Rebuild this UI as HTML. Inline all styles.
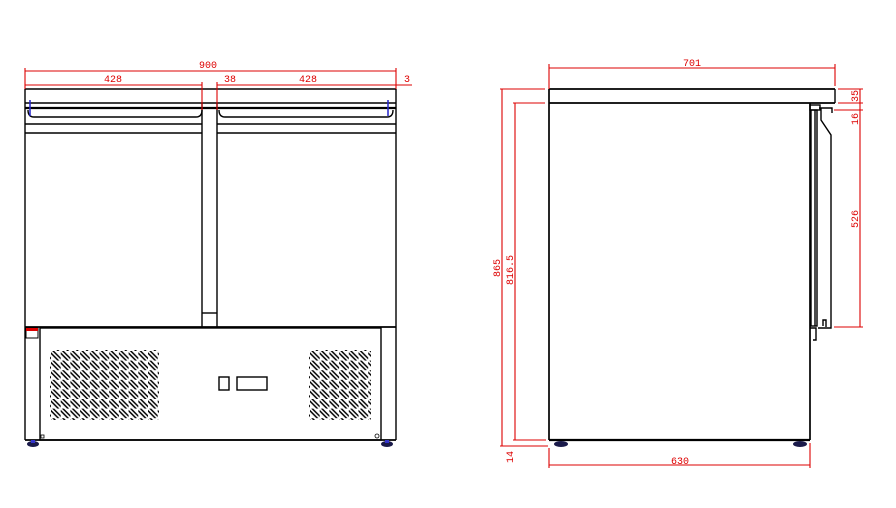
<!DOCTYPE html>
<html><head><meta charset="utf-8"><style>
html,body{margin:0;padding:0;background:#fff}
svg{display:block}
text{font-family:"Liberation Mono",monospace;font-size:10px;fill:#d00}
</style></head><body>
<svg width="896" height="508" viewBox="0 0 896 508" xmlns="http://www.w3.org/2000/svg">
<defs>
<g id="slot"><line x1="0" y1="0" x2="9" y2="9" stroke="#000" stroke-width="4.6" stroke-linecap="round"/><line x1="0" y1="0" x2="9" y2="9" stroke="#fff" stroke-width="1.6" stroke-linecap="round"/></g>
<pattern id="vent" x="51" y="351" width="9.7" height="9.6" patternUnits="userSpaceOnUse">
<use href="#slot" x="0" y="0"/></pattern>
<pattern id="vent2" x="310" y="351" width="9.7" height="9.6" patternUnits="userSpaceOnUse">
<use href="#slot" x="0" y="0"/></pattern>
</defs>
<g fill="none" stroke="#000" stroke-width="1.4">
<line x1="25" y1="89" x2="396" y2="89"/>
<line x1="25" y1="103" x2="396" y2="103"/>
<line x1="25" y1="108" x2="396" y2="108" stroke-width="2.2"/>
<path d="M28 110 Q28 117 34 117 L196 117 Q202 117 202 110"/>
<path d="M219 110 Q219 117 225 117 L387 117 Q393 117 393 110"/>
<line x1="25" y1="124" x2="202" y2="124"/><line x1="217" y1="124" x2="396" y2="124"/>
<line x1="25" y1="133" x2="202" y2="133"/><line x1="217" y1="133" x2="396" y2="133"/>
<line x1="25" y1="89" x2="25" y2="440"/>
<line x1="396" y1="89" x2="396" y2="440"/>
<line x1="202" y1="103" x2="202" y2="327"/>
<line x1="217" y1="103" x2="217" y2="327"/>
<line x1="202" y1="313" x2="217" y2="313"/>
<line x1="25" y1="327" x2="396" y2="327" stroke-width="1.8"/>
<rect x="40" y="328" width="341" height="112"/>
<line x1="25" y1="440" x2="396" y2="440" stroke-width="1.8"/>
<rect x="26" y="328" width="12" height="10" stroke-width="1"/>
<rect x="41" y="435" width="3" height="3" stroke-width="0.8"/>
<circle cx="377" cy="436" r="2" stroke-width="0.8"/>
<rect x="219" y="377" width="10" height="13"/>
<rect x="237" y="377" width="30" height="13"/>
<line x1="549" y1="89" x2="835" y2="89" stroke-width="1.7"/>
<line x1="549" y1="103" x2="835" y2="103" stroke-width="1.7"/>
<line x1="835" y1="89" x2="835" y2="103"/>
<line x1="549" y1="89" x2="549" y2="440" stroke-width="1.7"/>
<line x1="810" y1="103" x2="810" y2="440" stroke-width="1.7"/>
<line x1="549" y1="440" x2="810" y2="440" stroke-width="2.2"/>
<rect x="810" y="105" width="10" height="5"/>
<rect x="811" y="110" width="6" height="216"/>
<line x1="815" y1="110" x2="815" y2="326"/>
<path d="M819 108 L832 108 L832 113 M821 108 L821 120 L831 135 L831 328 L818 328"/>
<path d="M823 326 L823 320 L826 320 L826 327"/>
<path d="M810 328 L816 328 L816 340 L813 340"/>
</g>
<rect x="50" y="350" width="109" height="70" fill="url(#vent)"/>
<rect x="309" y="350" width="62" height="70" fill="url(#vent2)"/>
<g fill="#1a1a4a">
<ellipse cx="33" cy="444" rx="6" ry="3"/><rect x="31" y="440" width="4" height="3" fill="#33c"/>
<ellipse cx="387" cy="444" rx="6" ry="3"/><rect x="385" y="440" width="4" height="3" fill="#33c"/>
<ellipse cx="561" cy="444" rx="7" ry="3"/>
<ellipse cx="800" cy="444" rx="7" ry="3"/>
</g>
<rect x="26" y="328" width="12" height="3" fill="#d00"/>
<g stroke="#22c" stroke-width="1.5"><line x1="30" y1="100" x2="30" y2="116"/><line x1="388" y1="100" x2="388" y2="116"/></g>
<g stroke="#d00" stroke-width="1.1" fill="none">
<line x1="25" y1="71" x2="396" y2="71"/>
<line x1="25" y1="68" x2="25" y2="89"/><line x1="396" y1="68" x2="396" y2="89"/>
<line x1="25" y1="85" x2="202" y2="85"/><line x1="217" y1="85" x2="412" y2="85"/>
<line x1="202" y1="82" x2="202" y2="110"/><line x1="217" y1="82" x2="217" y2="110"/>
<line x1="549" y1="68" x2="835" y2="68"/>
<line x1="549" y1="64" x2="549" y2="89"/><line x1="835" y1="64" x2="835" y2="86"/>
<line x1="502" y1="89" x2="502" y2="446"/>
<line x1="500" y1="89" x2="545" y2="89"/>
<line x1="500" y1="446" x2="548" y2="446"/>
<line x1="515" y1="103" x2="515" y2="440"/>
<line x1="513" y1="103" x2="545" y2="103"/>
<line x1="513" y1="440" x2="546" y2="440"/>
<line x1="549" y1="465" x2="810" y2="465"/>
<line x1="549" y1="448" x2="549" y2="468"/><line x1="810" y1="443" x2="810" y2="468"/>
<line x1="860" y1="89" x2="860" y2="327"/>
<line x1="838" y1="89" x2="863" y2="89"/>
<line x1="838" y1="103" x2="863" y2="103"/>
<line x1="834" y1="110" x2="863" y2="110"/>
<line x1="834" y1="327" x2="863" y2="327"/>
</g>
<text x="208" y="68" text-anchor="middle">900</text>
<text x="113" y="82" text-anchor="middle">428</text>
<text x="230" y="82" text-anchor="middle">38</text>
<text x="308" y="82" text-anchor="middle">428</text>
<text x="404" y="82">3</text>
<text x="692" y="66" text-anchor="middle">701</text>
<text x="680" y="464" text-anchor="middle">630</text>
<text transform="translate(500,268) rotate(-90)" text-anchor="middle">865</text>
<text transform="translate(513,270) rotate(-90)" text-anchor="middle">816.5</text>
<text transform="translate(513,457) rotate(-90)" text-anchor="middle">14</text>
<text transform="translate(858,96) rotate(-90)" text-anchor="middle">35</text>
<text transform="translate(858,119) rotate(-90)" text-anchor="middle">16</text>
<text transform="translate(858,219) rotate(-90)" text-anchor="middle">526</text>
</svg>
</body></html>
